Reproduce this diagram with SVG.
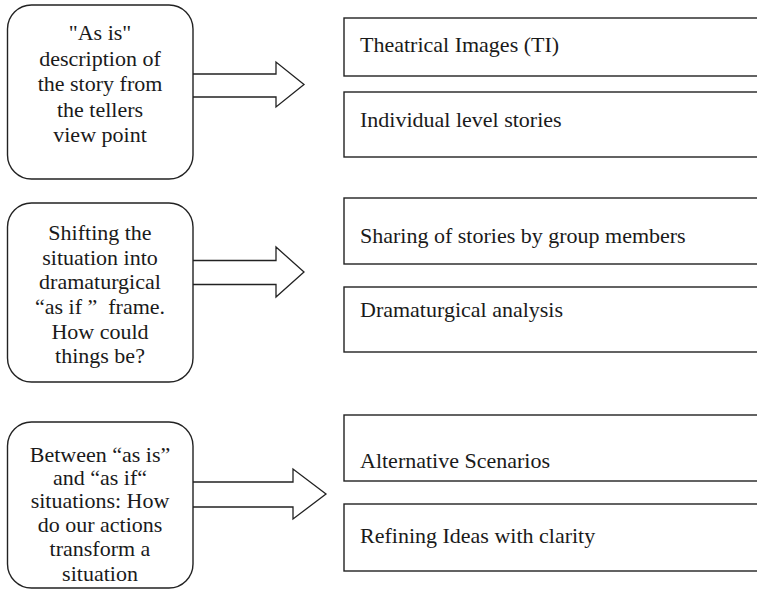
<svg xmlns="http://www.w3.org/2000/svg" width="757" height="591" viewBox="0 0 757 591">
  <style>
    .stage { fill: #fff; stroke: #222; stroke-width: 1.4; }
    .item { fill: #fff; stroke: #222; stroke-width: 1.4; }
    .arrow { fill: #fff; stroke: #222; stroke-width: 1.3; stroke-linejoin: miter; }
    text { font-family: "Liberation Serif", "Times New Roman", serif; font-size: 22px; fill: #1a1a1a; }
    .c { text-anchor: middle; }
  </style>
  <rect width="757" height="591" fill="#fff"/>

  <!-- block arrows from each stage to its activities -->
  <g id="connectors">
    <path class="arrow" d="M193,74 H276 V62 L304,84.5 L276,107 V97 H193"/>
    <path class="arrow" d="M193,260.5 H276 V247 L304,272 L276,297 V284.5 H193"/>
    <path class="arrow" d="M193,482 H293 V469 L326,494 L293,519 V507 H193"/>
  </g>

  <!-- stage 1 -->
  <g id="stage-as-is">
    <rect class="stage" x="7.5" y="5" width="185.5" height="174" rx="24" ry="24"/>
    <text class="c" x="100" y="40">"As is"</text>
    <text class="c" x="100" y="65.5">description of</text>
    <text class="c" x="100" y="91">the story from</text>
    <text class="c" x="100" y="116.5">the tellers</text>
    <text class="c" x="100" y="142"> view point</text>
  </g>

  <!-- stage 2 -->
  <g id="stage-as-if">
    <rect class="stage" x="7.5" y="203" width="185.5" height="179" rx="24" ry="24"/>
    <text class="c" x="100" y="240">Shifting the</text>
    <text class="c" x="100" y="264.5">situation into</text>
    <text class="c" x="100" y="289">dramaturgical</text>
    <text class="c" x="100" y="314" xml:space="preserve">“as if ”  frame.</text>
    <text class="c" x="100" y="338.5">How could</text>
    <text class="c" x="100" y="363">things be?</text>
  </g>

  <!-- stage 3 -->
  <g id="stage-between">
    <rect class="stage" x="7.5" y="422" width="185.5" height="166" rx="24" ry="24"/>
    <text class="c" x="100" y="462">Between “as is”</text>
    <text class="c" x="100" y="485">and “as if“</text>
    <text class="c" x="100" y="508">situations: How</text>
    <text class="c" x="100" y="532">do our actions</text>
    <text class="c" x="100" y="556">transform a</text>
    <text class="c" x="100" y="581">situation</text>
  </g>

  <!-- activity boxes (run past the right edge) -->
  <g id="item-theatrical-images">
    <rect class="item" x="344" y="18" width="430" height="58"/>
    <text x="360" y="52">Theatrical Images (TI)</text>
  </g>
  <g id="item-individual-stories">
    <rect class="item" x="344" y="92" width="430" height="65"/>
    <text x="360" y="127">Individual level stories</text>
  </g>
  <g id="item-sharing-stories">
    <rect class="item" x="344" y="198" width="430" height="66"/>
    <text x="360" y="243">Sharing of stories by group members</text>
  </g>
  <g id="item-dramaturgical-analysis">
    <rect class="item" x="344" y="287" width="430" height="65"/>
    <text x="360" y="317">Dramaturgical analysis</text>
  </g>
  <g id="item-alternative-scenarios">
    <rect class="item" x="344" y="415" width="430" height="66"/>
    <text x="360" y="468">Alternative Scenarios</text>
  </g>
  <g id="item-refining-ideas">
    <rect class="item" x="344" y="504" width="430" height="67"/>
    <text x="360" y="543">Refining Ideas with clarity</text>
  </g>
</svg>
